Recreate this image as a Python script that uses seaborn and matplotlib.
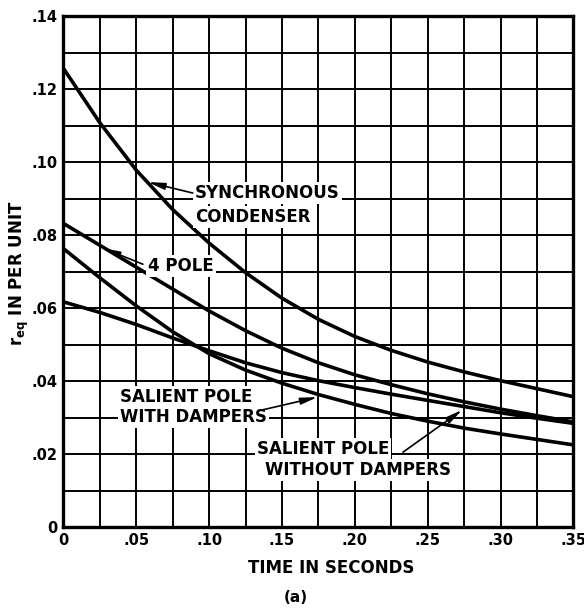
import matplotlib
matplotlib.use("Agg")
import matplotlib.pyplot as plt
import seaborn as sns

# values (time in s, r_eq in per unit)
time_s = [0.0, 0.025, 0.05, 0.075, 0.10, 0.125, 0.15, 0.175, 0.20, 0.225, 0.25, 0.275, 0.30, 0.325, 0.35]
sync_condenser = [0.1257, 0.1108, 0.0978, 0.0870, 0.0778, 0.0697, 0.0627, 0.0569, 0.0522, 0.0484,
                  0.0452, 0.0425, 0.0401, 0.0379, 0.0357]
four_pole = [0.0832, 0.0772, 0.0712, 0.0652, 0.0592, 0.0538, 0.0490, 0.0450, 0.0417, 0.0390,
             0.0365, 0.0343, 0.0323, 0.0305, 0.0288]
salient_flat = [0.0617, 0.0588, 0.0555, 0.0518, 0.0483, 0.0450, 0.0423, 0.0401, 0.0382, 0.0364,
                0.0347, 0.0330, 0.0313, 0.0298, 0.0284]
salient_steep = [0.0763, 0.0683, 0.0606, 0.0535, 0.0475, 0.0430, 0.0394, 0.0363, 0.0336, 0.0311,
                 0.0290, 0.0271, 0.0255, 0.0240, 0.0225]

x_ticks = [0, 0.05, 0.10, 0.15, 0.20, 0.25, 0.30, 0.35]
x_ticklabels = ["0", ".05", ".10", ".15", ".20", ".25", ".30", ".35"]
y_ticks = [0, 0.02, 0.04, 0.06, 0.08, 0.10, 0.12, 0.14]
y_ticklabels = ["0", ".02", ".04", ".06", ".08", ".10", ".12", ".14"]

sns.set_style("white")
plt.rcParams["font.family"] = ["DejaVu Sans"]
plt.rcParams["font.weight"] = "bold"
plt.rcParams["text.color"] = "black"
plt.rcParams["xtick.color"] = "black"
plt.rcParams["ytick.color"] = "black"

fig = plt.figure(figsize=(5.84, 6.09), dpi=100)
ax = fig.add_axes([0.1084, 0.1346, 0.8736, 0.8391])

# grid first so the curves sit on top
for gx in [i * 0.025 for i in range(1, 14)]:
    ax.axvline(gx, color="black", lw=1.4, zorder=1)
for gy in [i * 0.01 for i in range(1, 14)]:
    ax.axhline(gy, color="black", lw=1.4, zorder=1)

for series in [sync_condenser, four_pole, salient_flat, salient_steep]:
    sns.lineplot(x=time_s, y=series, color="black", lw=2.6, ax=ax, zorder=3,
                 solid_joinstyle="round")

ax.set_xlim(0, 0.35)
ax.set_ylim(0, 0.14)
ax.set_xticks(x_ticks)
ax.set_xticklabels(x_ticklabels)
ax.set_yticks(y_ticks)
ax.set_yticklabels(y_ticklabels)
ax.tick_params(length=0, labelsize=10.5, pad=4, colors="black")
for lab in ax.get_xticklabels() + ax.get_yticklabels():
    lab.set_fontweight("bold")
for sp in ax.spines.values():
    sp.set_visible(True)
    sp.set_color("black")
    sp.set_linewidth(2.4)

txt = dict(fontsize=12, fontweight="bold", va="center", ha="left", zorder=5, color="black",
           bbox=dict(facecolor="white", edgecolor="none", pad=1.5))
arw = dict(arrowstyle="-|>,head_length=1.0,head_width=0.2", color="black", lw=1.2,
           shrinkA=0, shrinkB=0)

ax.text(0.0902, 0.0915, "SYNCHRONOUS", **txt)
ax.text(0.0902, 0.0849, "CONDENSER", **txt)
ax.annotate("", xy=(0.058, 0.0945), xytext=(0.0888, 0.0915), arrowprops=arw, zorder=5)

ax.text(0.058, 0.0715, "4 POLE", **txt)
ax.annotate("", xy=(0.0272, 0.0764), xytext=(0.0546, 0.0720), arrowprops=arw, zorder=5)

ax.text(0.0389, 0.0356, "SALIENT POLE", **txt)
ax.text(0.0389, 0.0302, "WITH DAMPERS", **txt)
ax.annotate("", xy=(0.1745, 0.0356), xytext=(0.1367, 0.0321), arrowprops=arw, zorder=5)

ax.text(0.1327, 0.0213, "SALIENT POLE", **txt)
ax.text(0.1382, 0.0156, "WITHOUT DAMPERS", **txt)
ax.annotate("", xy=(0.2737, 0.0321), xytext=(0.233, 0.0205), arrowprops=arw, zorder=5)

fig.text(0.567, 0.0673, "TIME IN SECONDS", ha="center", va="center", fontsize=12,
         fontweight="bold", color="black")
fig.text(0.507, 0.0197, "(a)", ha="center", va="center", fontsize=11, fontweight="bold",
         color="black")
fig.text(0.033, 0.552, r"$\mathbf{r_{eq}}$ IN PER UNIT", rotation=90, ha="center", va="center",
         fontsize=12, fontweight="bold", color="black")

fig.savefig("out.png", dpi=100, facecolor="white")
